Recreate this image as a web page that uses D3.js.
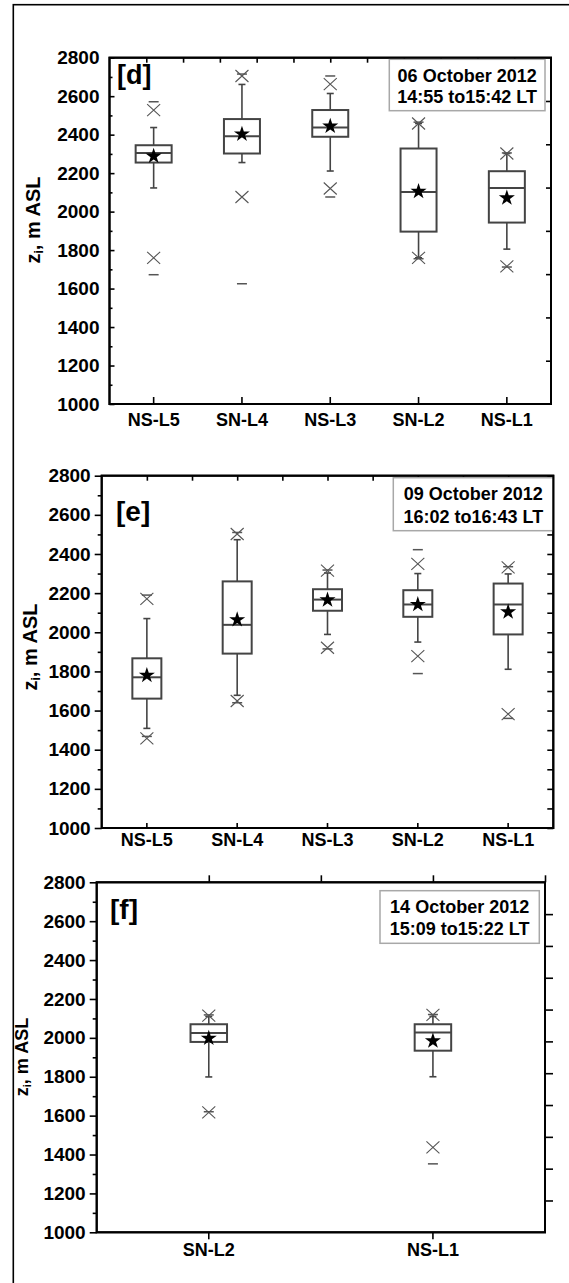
<!DOCTYPE html>
<html><head><meta charset="utf-8">
<script src="https://cdn.jsdelivr.net/npm/d3@7"></script>
<style>
html,body{margin:0;padding:0;background:#fff;}
svg{display:block;}
text{font-family:"Liberation Sans",Arial,sans-serif;font-weight:bold;fill:#000;}
</style></head>
<body>
<svg id="chart" width="569" height="1283"></svg>
<script>
// ---------- data ----------
const yTicks = [1000,1200,1400,1600,1800,2000,2200,2400,2600,2800];
const yMinorTicks = [1100,1300,1500,1700,1900,2100,2300,2500,2700];

// panel [d] 06 October 2012
const catsD   = ["NS-L5","SN-L4","NS-L3","SN-L2","NS-L1"];
const minD    = [1672,1625,2076,1755,1712];
const p1D     = [1760,2076,2120,1760,1715];
const wLowD   = [2123,2255,2211,1760,1805];
const q1D     = [2255,2302,2389,1896,1943];
const medD    = [2305,2392,2437,2102,2123];
const q3D     = [2345,2481,2528,2328,2210];
const wHighD  = [2437,2661,2614,2458,2302];
const p99D    = [2528,2705,2663,2458,2302];
const maxD    = [2571,2715,2705,2465,2305];
const meanD   = [2288,2403,2444,2105,2071];

// panel [e] 09 October 2012
const catsE   = ["NS-L5","SN-L4","NS-L3","SN-L2","NS-L1"];
const minE    = [1468,1640,1915,1789,1560];
const p1E     = [1458,1649,1921,1878,1582];
const wLowE   = [1509,1678,1989,1950,1811];
const q1E     = [1661,1891,2110,2079,1989];
const medE    = [1770,2038,2167,2142,2142];
const q3E     = [1867,2260,2220,2215,2249];
const wHighE  = [2070,2473,2303,2300,2298];
const p99E    = [2171,2502,2315,2349,2332];
const maxE    = [2190,2510,2318,2422,2335];
const meanE   = [1780,2064,2165,2142,2104];

// panel [f] 14 October 2012
const catsF   = ["SN-L2","NS-L1"];
const minF    = [1620,1352];
const p1F     = [1617,1437];
const wLowF   = [1799,1800];
const q1F     = [1979,1934];
const medF    = [2025,2027];
const q3F     = [2070,2070];
const wHighF  = [2110,2110];
const p99F    = [2114,2118];
const maxF    = [2118,2120];
const meanF   = [1998,1984];

const legendD = ["06 October 2012","14:55 to15:42 LT"];
const legendE = ["09 October 2012","16:02 to16:43 LT"];
const legendF = ["14 October 2012","15:09 to15:22 LT"];

// ---------- drawing ----------
const svg = d3.select("#chart");

// outer frame
svg.append("rect").attr("x",13.3).attr("y",4.7).attr("width",600).attr("height",1320)
  .attr("fill","none").attr("stroke","#000").attr("stroke-width",1.6);

const panels = [
  {cats:catsD,min:minD,p1:p1D,wl:wLowD,q1:q1D,med:medD,q3:q3D,wh:wHighD,p99:p99D,max:maxD,mean:meanD,
   left:109.5,right:551,top:57.7,bottom:404,boxW:36,leftOut:false,bottomTick:-7,
   topDivs:12,topOut:false,rightMode:"divs",rightDivs:8,rightOut:false,
   legend:legendD,lg:[389.3,59.3,545,110.7],lgBase:[81.5,103.2],
   tag:"[d]",tagX:117,tagY:84,tagFont:"Liberation Sans",tagSize:27,
   labBase:426,ytitleX:33,ytitleY:220,ytitleSize:20},
  {cats:catsE,min:minE,p1:p1E,wl:wLowE,q1:q1E,med:medE,q3:q3E,wh:wHighE,p99:p99E,max:maxE,mean:meanE,
   left:101.7,right:553.3,top:475.7,bottom:828,boxW:29,leftOut:true,bottomTick:-5,
   topDivs:10,topOut:false,rightMode:"mirror",rightOut:false,
   legend:legendE,lg:[393.3,477.7,553.3,530.7],lgBase:[500,522.6],
   tag:"[e]",tagX:116,tagY:521,tagFont:"Open Sans",tagSize:28,
   labBase:846,ytitleX:30,ytitleY:647,ytitleSize:20},
  {cats:catsF,min:minF,p1:p1F,wl:wLowF,q1:q1F,med:medF,q3:q3F,wh:wHighF,p99:p99F,max:maxF,mean:meanF,
   left:96.7,right:545,top:882.3,bottom:1232.3,boxW:36.5,leftOut:true,bottomTick:7,
   topDivs:4,topOut:true,rightMode:"divs",rightDivs:11,rightOut:true,
   legend:legendF,lg:[380,890.7,539.3,943.3],lgBase:[913.2,935],
   tag:"[f]",tagX:110,tagY:919,tagFont:"Open Sans",tagSize:28,
   labBase:1256,ytitleX:22,ytitleY:1057,ytitleSize:18}
];

const greyLine = "#444";
const markCol = "#555";

panels.forEach(p => {
  const g = svg.append("g");
  const x = d3.scaleBand().domain(p.cats).range([p.left,p.right]);
  const y = d3.scaleLinear().domain([1000,2800]).range([p.bottom,p.top]);
  const cx = c => x(c) + x.bandwidth()/2;

  // left axis: labels
  const la = g.append("g").attr("transform",`translate(${p.left},0)`)
    .call(d3.axisLeft(y).tickValues(yTicks).tickSize(0).tickPadding(p.leftOut?11:10).tickFormat(d3.format("d")));
  la.select(".domain").remove();
  la.selectAll("text").attr("font-size",19).attr("font-family","Liberation Sans").attr("font-weight","bold");
  // left axis: major & minor tick marks
  const lMaj = g.append("g").attr("transform",`translate(${p.left},0)`)
    .call(d3.axisLeft(y).tickValues(yTicks).tickSize(p.leftOut?7:-5).tickFormat(""));
  const lMin = g.append("g").attr("transform",`translate(${p.left},0)`)
    .call(d3.axisLeft(y).tickValues(yMinorTicks).tickSize(p.leftOut?4:-3).tickFormat(""));
  [lMaj,lMin].forEach(a=>{a.select(".domain").remove();a.selectAll("line").attr("stroke","#000").attr("stroke-width",1.6);});

  // bottom axis: category labels + ticks
  const ba = g.append("g").attr("transform",`translate(0,${p.bottom})`)
    .call(d3.axisBottom(x).tickSize(0).tickPadding(0));
  ba.select(".domain").remove();
  ba.selectAll("text").attr("dy",null).attr("y",p.labBase-p.bottom)
    .attr("font-size",18).attr("font-family","Liberation Sans").attr("font-weight","bold");
  const bt = g.append("g").attr("transform",`translate(0,${p.bottom})`)
    .call(d3.axisBottom(x).tickSize(p.bottomTick).tickFormat(""));
  bt.select(".domain").remove();
  bt.selectAll("line").attr("stroke","#000").attr("stroke-width",1.6);

  // top axis ticks
  const tScale = d3.scaleLinear().domain([0,p.topDivs]).range([p.left,p.right]);
  const ta = g.append("g").attr("transform",`translate(0,${p.top})`)
    .call(d3.axisTop(tScale).tickValues(d3.range(1,p.topDivs+ (p.topOut?1:0))).tickSize(p.topOut?7:-5).tickFormat(""));
  ta.select(".domain").remove();
  ta.selectAll("line").attr("stroke","#000").attr("stroke-width",1.6);

  // right axis ticks
  if (p.rightMode === "mirror") {
    [[yTicks,-6],[yMinorTicks,-6]].forEach(([tv,sz])=>{
      const ra = g.append("g").attr("transform",`translate(${p.right},0)`)
        .call(d3.axisRight(y).tickValues(tv).tickSize(sz).tickFormat(""));
      ra.select(".domain").remove();
      ra.selectAll("line").attr("stroke","#000").attr("stroke-width",1.6);
    });
  } else {
    const rScale = d3.scaleLinear().domain([0,p.rightDivs]).range([p.bottom,p.top]);
    const ra = g.append("g").attr("transform",`translate(${p.right},0)`)
      .call(d3.axisRight(rScale).tickValues(d3.range(1,p.rightDivs)).tickSize(p.rightOut?8:-5).tickFormat(""));
    ra.select(".domain").remove();
    ra.selectAll("line").attr("stroke","#000").attr("stroke-width",1.6);
  }

  // y axis title
  const yt = g.append("text")
    .attr("transform",`translate(${p.ytitleX},${p.ytitleY}) rotate(-90)`)
    .attr("text-anchor","middle").attr("dominant-baseline","central")
    .attr("font-size",p.ytitleSize);
  yt.append("tspan").text("z");
  yt.append("tspan").text("i").attr("font-size",p.ytitleSize*0.6).attr("dy",p.ytitleSize*0.3);
  yt.append("tspan").text(", m ASL").attr("dy",-p.ytitleSize*0.3);

  // boxes
  const idx = d3.range(p.cats.length);
  idx.forEach(i => {
    const c = cx(p.cats[i]);
    const bw = p.boxW;
    // whiskers
    g.append("line").attr("x1",c).attr("x2",c).attr("y1",y(p.q3[i])).attr("y2",y(p.wh[i]))
      .attr("stroke",greyLine).attr("stroke-width",1.6);
    g.append("line").attr("x1",c).attr("x2",c).attr("y1",y(p.q1[i])).attr("y2",y(p.wl[i]))
      .attr("stroke",greyLine).attr("stroke-width",1.6);
    [p.wh[i],p.wl[i]].forEach(v=>{
      g.append("line").attr("x1",c-3.5).attr("x2",c+3.5).attr("y1",y(v)).attr("y2",y(v))
        .attr("stroke",greyLine).attr("stroke-width",1.6);
    });
    // box
    g.append("rect").attr("x",c-bw/2).attr("y",y(p.q3[i])).attr("width",bw)
      .attr("height",y(p.q1[i])-y(p.q3[i]))
      .attr("fill","#fff").attr("stroke",greyLine).attr("stroke-width",2);
    g.append("line").attr("x1",c-bw/2).attr("x2",c+bw/2).attr("y1",y(p.med[i])).attr("y2",y(p.med[i]))
      .attr("stroke",greyLine).attr("stroke-width",2);
    // 1%/99% crosses
    [p.p1[i],p.p99[i]].forEach(v=>{
      const yy = y(v);
      g.append("path").attr("d",`M${c-6.5},${yy-6}L${c+6.5},${yy+6}M${c-6.5},${yy+6}L${c+6.5},${yy-6}`)
        .attr("stroke",markCol).attr("stroke-width",1.1).attr("fill","none");
    });
    // min/max dashes
    [p.min[i],p.max[i]].forEach(v=>{
      g.append("line").attr("x1",c-5).attr("x2",c+5).attr("y1",y(v)).attr("y2",y(v))
        .attr("stroke",markCol).attr("stroke-width",1.5);
    });
    // mean star
    g.append("path").attr("d",d3.symbol(d3.symbolStar,80)())
      .attr("transform",`translate(${c},${y(p.mean[i])})`).attr("fill","#000");
  });

  // frame
  g.append("rect").attr("x",p.left).attr("y",p.top).attr("width",p.right-p.left).attr("height",p.bottom-p.top)
    .attr("fill","none").attr("stroke","#000").attr("stroke-width",2);

  // legend box
  const [lx0,ly0,lx1,ly1] = p.lg;
  g.append("rect").attr("x",lx0).attr("y",ly0).attr("width",lx1-lx0).attr("height",ly1-ly0)
    .attr("fill","#fff").attr("stroke","#a8a8a8").attr("stroke-width",1.5);
  p.legend.forEach((t,k)=>{
    g.append("text").attr("x",(lx0+lx1)/2).attr("y",p.lgBase[k]).attr("text-anchor","middle")
      .attr("font-size",18).text(t);
  });
  // redraw frame edge over legend
  g.append("rect").attr("x",p.left).attr("y",p.top).attr("width",p.right-p.left).attr("height",p.bottom-p.top)
    .attr("fill","none").attr("stroke","#000").attr("stroke-width",2);

  // panel tag
  g.append("text").attr("x",p.tagX).attr("y",p.tagY).attr("font-size",p.tagSize)
    .attr("font-family",p.tagFont).attr("font-weight","bold").text(p.tag);
});
</script>
</body></html>
